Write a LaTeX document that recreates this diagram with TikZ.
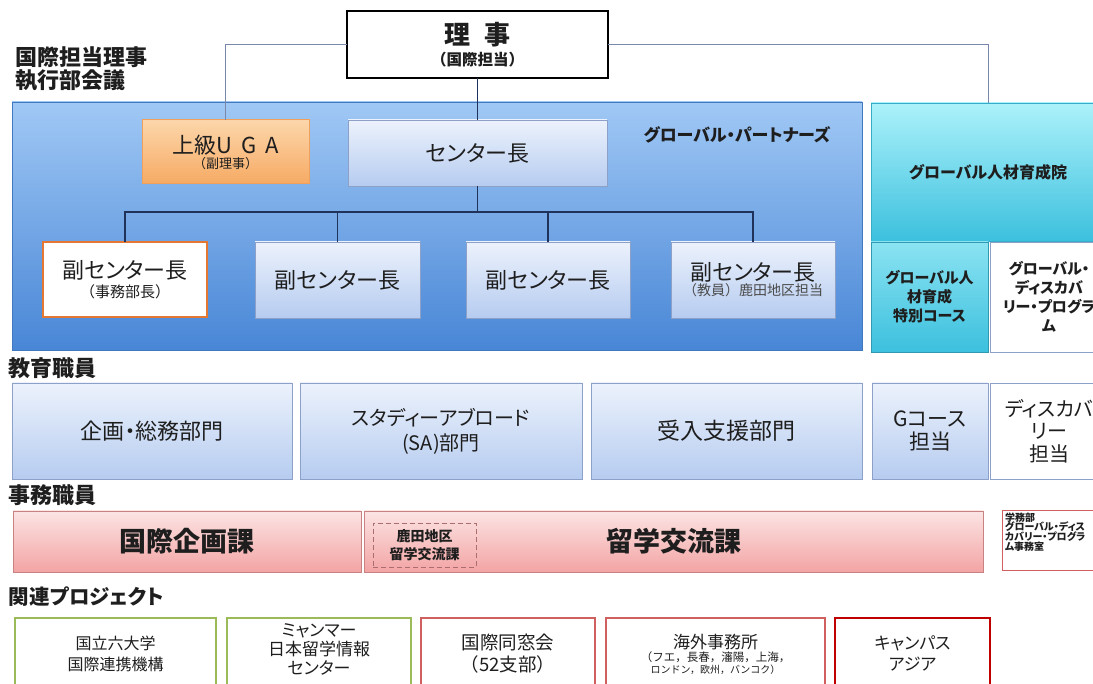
\documentclass[tikz,border=0pt]{standalone}
\usepackage{fontspec}
\setmainfont{Noto Sans CJK JP}[RawFeature=+palt]
\newfontfamily\jpfull{Noto Sans CJK JP}
\newcommand{\fsz}[2]{\fontsize{#1}{#2}\selectfont}
\definecolor{bluetop}{RGB}{160,200,245}
\definecolor{bluebot}{RGB}{72,134,214}
\definecolor{ltop}{RGB}{236,242,252}
\definecolor{lbot}{RGB}{182,204,240}
\definecolor{lline}{RGB}{140,160,200}
\definecolor{cyantop}{RGB}{172,242,250}
\definecolor{cyanbot}{RGB}{60,192,222}
\definecolor{pinktop}{RGB}{252,228,228}
\definecolor{pinkbot}{RGB}{243,164,164}
\definecolor{pinkline}{RGB}{200,130,130}
\definecolor{orgtop}{RGB}{252,214,170}
\definecolor{orgbot}{RGB}{246,170,100}
\definecolor{orgline}{RGB}{240,160,90}
\definecolor{orgthick}{RGB}{228,120,50}
\definecolor{conn}{RGB}{120,135,170}
\definecolor{navy}{RGB}{30,50,90}
\definecolor{grn}{RGB}{155,187,89}
\definecolor{redl}{RGB}{208,96,96}
\definecolor{redd}{RGB}{192,0,0}
\definecolor{ink}{RGB}{30,30,30}
\tikzset{
  sz/.style 2 args={minimum width=#1pt,minimum height=#2pt},
  lbox/.style={draw=lline, line width=0.8pt, top color=ltop, bottom color=lbot, align=center},
  pbox/.style={draw=pinkline, line width=0.8pt, top color=pinktop, bottom color=pinkbot, align=center},
  wbox/.style={draw=lline, line width=0.8pt, fill=white, align=center},
  prj/.style={fill=white, line width=2.2pt},
  lab/.style={anchor=west, align=left, font=\fsz{22}{23}\bfseries},
  cline/.style={draw=conn, line width=1pt},
  bus/.style={draw=navy, line width=1.5pt},
}
\begin{document}
\begin{tikzpicture}[x=1pt,y=-1pt, every node/.style={inner sep=0pt, outer sep=0pt, text=ink}]
\useasboundingbox (0,0) rectangle (1093,684);
\clip (0,0) rectangle (1093,684);
\fill[white] (0,0) rectangle (1093,684);

% ---- top
\node[draw=black, line width=1.6pt, fill=white, sz={261}{67}, align=center] (riji) at (477.5,44.5)
  {\fsz{26}{28}\bfseries 理\hspace{14pt}事\\[4pt]\jpfull\fsz{15.5}{18}\bfseries （国際担当）};
\node[lab] (lab1) at (16,69) {国際担当理事\\執行部会議};

% ---- global partners block
\node[draw=bluebot!90!black, line width=0.5pt, top color=bluetop, bottom color=bluebot, sz={850}{248}] (gp) at (437,226) {};
\node[font=\fsz{17}{20}\bfseries] (gpt) at (737,135) {グローバル・パートナーズ};
\node[draw=orgline, line width=1pt, top color=orgtop, bottom color=orgbot, sz={167}{64}, align=center] (uga) at (225.5,152)
  {\fsz{22}{24}上級U\hspace{9pt}G\hspace{9pt}A\\[1pt]\jpfull\fsz{13}{15}（副理事）};
\node[lbox, sz={259}{66}, font=\fsz{22}{26}] (cen) at (477.5,153) {センター長};
\node[draw=orgthick, line width=2pt, fill=white, sz={164}{75}, align=center] (s1) at (125,279.5)
  {\fsz{22}{24}副センター長\\[3pt]\jpfull\fsz{15}{18}（事務部長）};
\node[lbox, sz={165}{76}, font=\fsz{22}{26}] (s2) at (337.5,280) {副センター長};
\node[lbox, sz={164}{76}, font=\fsz{22}{26}] (s3) at (548,280) {副センター長};
\node[lbox, sz={164}{76}] (s4) at (753,280)
  {\fsz{22}{24}副センター長\\\jpfull\fsz{14}{16}\color{ink!80}（教員）鹿田地区担当};

% ---- global jinzai block
\node[draw=cyanbot!90!black, line width=0.5pt, top color=cyantop, bottom color=cyanbot, sz={234}{138}, font=\fsz{16}{19}\bfseries] (gh) at (988,172) {グローバル人材育成院};
\node[draw=cyanbot!80!black, line width=0.5pt, top color=cyantop!70!cyanbot, bottom color=cyanbot, sz={117}{110}, align=center, font=\fsz{15}{19}\bfseries] (gt) at (929.5,297) {グローバル人\\材育成\\特別コース};
\node[wbox, sz={118}{110}, font=\fsz{15}{19}\bfseries] (gd) at (1049,297) {グローバル・\\ディスカバ\\リー・プログラ\\ム};

% ---- connectors
\draw[cline] (riji.west) -| (uga.north);
\draw[cline] (riji.east) -| (gh.north);
\draw[draw=navy, line width=1.2pt] (riji.south) -- (cen.north);
\coordinate (busy) at (0,212);
\draw[bus] (cen.south) -- (cen.south |- busy);
\draw[bus] (s1.north) -- (s1.north |- busy) -- (s4.north |- busy) -- (s4.north);
\draw[bus] (s2.north) -- (s2.north |- busy);
\draw[bus] (s3.north) -- (s3.north |- busy);

% ---- education staff
\node[lab] (lab2) at (9,368) {教育職員};
\node[lbox, sz={280}{96}, font=\fsz{22}{25}] (r1) at (152,431) {企画・総務部門};
\node[lbox, sz={282}{96}, font=\fsz{20}{25}] (r2) at (441,431) {スタディーアブロード\\(SA)部門};
\node[lbox, sz={271}{96}, font=\fsz{23}{25}] (r3) at (726.5,431) {受入支援部門};
\node[lbox, sz={116}{96}, font=\fsz{21}{23}] (r4) at (930,431) {Gコース\\担当};
\node[wbox, sz={118}{96}, font=\fsz{20}{22.5}] (r5) at (1049,431) {ディスカバ\\リー\\担当};

% ---- office staff
\node[lab] (lab3) at (9,495) {事務職員};
\node[pbox, sz={348}{61}, font=\fsz{27}{30}\bfseries] (p1) at (187,541.5) {国際企画課};
\node[pbox, sz={619}{61}, font=\fsz{27}{30}\bfseries] (p2) at (673.5,541.5) {留学交流課};
\node[draw=pinkline!85!black, dash pattern=on 5pt off 3pt, line width=0.8pt, sz={103}{44}, align=center, font=\fsz{14}{18}\bfseries] (pd) at (424.5,545) {鹿田地区\\留学交流課};
\node[draw=redl, line width=1pt, fill=white, sz={108}{59}] (p3) at (1056,540.5) {};
\node[anchor=north west, align=left, font=\fsz{10}{9.8}\bfseries] (p3t) at (1005,512.5) {学務部\\グローバル・ディス\\カバリー・プログラ\\ム事務室};

% ---- projects
\node[lab, font=\fsz{20.5}{23}\bfseries] (lab4) at (9,597) {関連プロジェクト};
\node[prj, draw=grn, sz={201}{80}] (b1) at (115.5,658) {};
\node[prj, draw=grn, sz={184}{80}] (b2) at (319,658) {};
\node[prj, draw=redl, line width=2pt, sz={174}{80}] (b3) at (508,658) {};
\node[prj, draw=redl, line width=2pt, sz={219}{80}] (b4) at (715.5,658) {};
\node[prj, draw=redd, line width=2.5pt, sz={155}{80}] (b5) at (912.5,658) {};
\node[align=center, font=\fsz{16}{21}] (b1t) at (115.5,654) {国立六大学\\国際連携機構};
\node[align=center, font=\fsz{17}{19}] (b2t) at (319,649) {ミャンマー\\日本留学情報\\センター};
\node[align=center, font=\fsz{18.5}{22}] (b3t) at (508,654) {国際同窓会\\\jpfull（52支部）};
\node[align=center] (b4t) at (715.5,654) {\fsz{17}{20}海外事務所\\[1pt]\jpfull\fsz{11.5}{17}（フエ，長春，瀋陽，上海，\\\jpfull ロンドン，欧州，バンコク）};
\node[align=center, font=\fsz{17}{21}] (b5t) at (912.5,653) {キャンパス\\アジア};
\end{tikzpicture}
\end{document}
